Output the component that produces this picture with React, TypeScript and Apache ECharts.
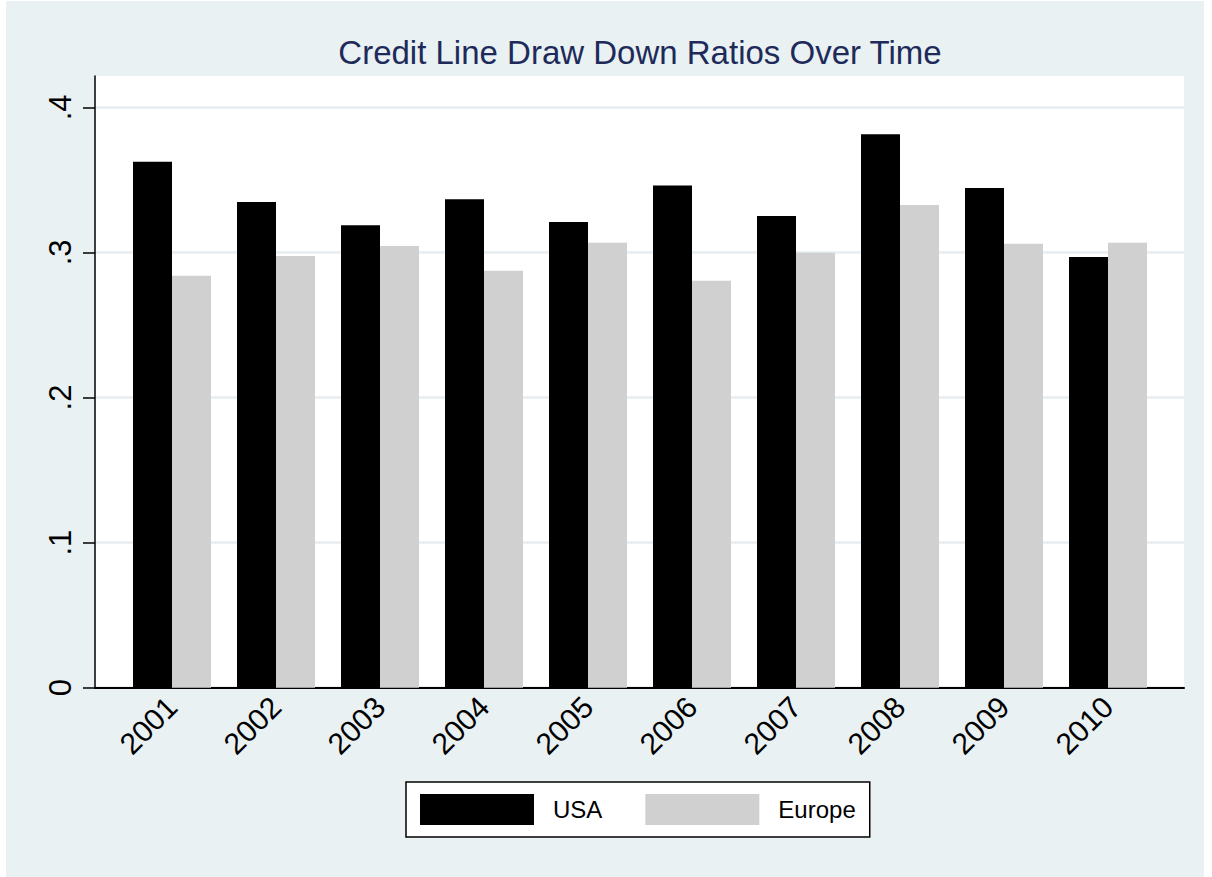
import React, { useEffect, useRef } from "react";
import * as echarts from "echarts";

const titleText = "Credit Line Draw Down Ratios Over Time";
const years = ["2001", "2002", "2003", "2004", "2005", "2006", "2007", "2008", "2009", "2010"];
const seriesNames = ["USA", "Europe"];
const usa = [0.3625, 0.3347, 0.3188, 0.3366, 0.3209, 0.3462, 0.3251, 0.3814, 0.3444, 0.2968];
const europe = [0.2839, 0.2975, 0.3044, 0.2874, 0.3067, 0.2805, 0.2998, 0.3327, 0.306, 0.3067];
const yTicks = [0, 0.1, 0.2, 0.3, 0.4];
const yTickLabels = ["0", ".1", ".2", ".3", ".4"];
const yMin = 0;
const yMax = 0.4216;

const FONT = "'Liberation Sans', Arial, Helvetica, sans-serif";

export default function App() {
  const ref = useRef<HTMLDivElement>(null);
  useEffect(() => {
    document.body.style.margin = "0";
    const chart = echarts.init(ref.current!, null, { renderer: "svg" });
    const fmt = (v: number) => {
      const i = yTicks.findIndex((t) => Math.abs(t - v) < 1e-9);
      return i >= 0 ? yTickLabels[i] : "";
    };
    chart.setOption({
      animation: false,
      backgroundColor: "#ffffff",
      title: {
        text: titleText,
        left: 635,
        top: 31,
        textAlign: "center",
        textStyle: { fontSize: 33, fontWeight: "normal", color: "#1E2B5A", fontFamily: FONT, lineHeight: 33 },
      },
      graphic: [
        {
          type: "rect",
          z: -100,
          silent: true,
          shape: { x: 6, y: 1, width: 1198, height: 876 },
          style: { fill: "#E9F1F3" },
        },
      ],
      legend: {
        data: seriesNames,
        left: 406,
        top: 782,
        orient: "horizontal",
        icon: "rect",
        itemWidth: 114,
        itemHeight: 31,
        itemGap: 43,
        padding: [12, 14, 12, 14],
        borderColor: "#000",
        borderWidth: 1.5,
        backgroundColor: "#ffffff",
        textStyle: { fontSize: 24, color: "#000", fontFamily: FONT, padding: [0, 0, 0, 14] },
      },
      grid: [
        { left: 95, right: 28, top: 76, bottom: 189.3, show: true, backgroundColor: "#ffffff", borderWidth: 0 },
        { left: 120, right: 52, top: 76, bottom: 189.3 },
      ],
      xAxis: [
        {
          gridIndex: 0,
          type: "value",
          min: 0,
          max: 1,
          axisLine: { show: true, onZero: false, lineStyle: { color: "#000", width: 2 } },
          axisTick: { show: false },
          axisLabel: { show: false },
          splitLine: { show: false },
        },
        {
          gridIndex: 1,
          type: "category",
          data: years,
          axisLine: { show: false },
          axisTick: { show: false },
          axisLabel: { rotate: 45, margin: 14, fontSize: 30, color: "#000", fontFamily: FONT, interval: 0 },
        },
      ],
      yAxis: [
        {
          gridIndex: 0,
          type: "value",
          min: yMin,
          max: yMax,
          axisLine: { show: true, onZero: false, lineStyle: { color: "#000", width: 1.5 } },
          axisTick: { show: true, length: 12, customValues: yTicks, lineStyle: { color: "#000", width: 1.5 } },
          axisLabel: {
            rotate: 90,
            margin: 19,
            fontSize: 31,
            color: "#000",
            fontFamily: FONT,
            customValues: yTicks,
            formatter: fmt,
          },
          splitLine: { show: true, lineStyle: { color: "#E6EEF1", width: 2.5 } },
        },
        { gridIndex: 1, type: "value", min: yMin, max: yMax, show: false },
      ],
      series: [
        {
          name: seriesNames[0],
          type: "bar",
          xAxisIndex: 1,
          yAxisIndex: 1,
          data: usa,
          barWidth: 39,
          barGap: "0%",
          itemStyle: { color: "#000000" },
        },
        {
          name: seriesNames[1],
          type: "bar",
          xAxisIndex: 1,
          yAxisIndex: 1,
          data: europe,
          barWidth: 39,
          barGap: "0%",
          itemStyle: { color: "#D0D0D0" },
        },
      ],
    });
    return () => chart.dispose();
  }, []);
  return <div ref={ref} style={{ width: 1212, height: 877 }} />;
}
